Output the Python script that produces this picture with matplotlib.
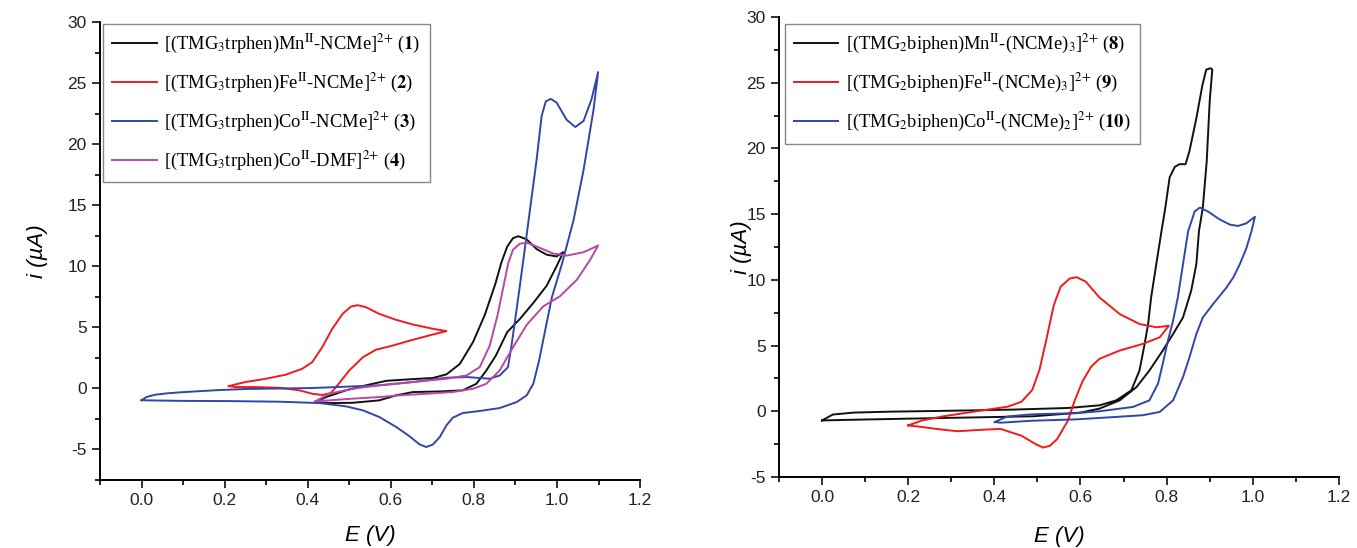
import matplotlib.pyplot as plt
from matplotlib.ticker import MultipleLocator

plt.rcParams['mathtext.fontset'] = 'stix'
plt.rcParams['axes.unicode_minus'] = False

# ---- left panel: TMG3trphen complexes (E in V, i in uA) ----
mn1_E = [0.419, 0.444, 0.492, 0.540, 0.589, 0.653, 0.701, 0.734, 0.766, 0.798, 0.826, 0.852, 0.866, 0.880,
         0.894, 0.907, 0.927, 0.951, 0.975, 0.999, 1.015,
         0.999, 0.975, 0.943, 0.911, 0.880, 0.853, 0.830, 0.806, 0.773, 0.718, 0.653, 0.613, 0.572, 0.508,
         0.452, 0.419]
mn1_i = [-1.12, -0.71, -0.16, 0.25, 0.62, 0.76, 0.85, 1.15, 2.0, 3.8, 6.0, 8.6, 10.3, 11.6,
         12.3, 12.46, 12.2, 11.4, 10.95, 10.8, 11.15,
         10.0, 8.4, 7.0, 5.7, 4.6, 2.7, 1.47, 0.38, -0.16, -0.25, -0.30, -0.57, -0.98, -1.18,
         -1.2, -1.12]

fe2_E = [0.210, 0.250, 0.299, 0.347, 0.387, 0.411, 0.435, 0.459, 0.484, 0.504, 0.520, 0.540, 0.572, 0.613,
         0.653, 0.701, 0.734,
         0.701, 0.653, 0.605, 0.564, 0.533, 0.500, 0.476, 0.456, 0.435, 0.411, 0.380, 0.331, 0.275, 0.226,
         0.210]
fe2_i = [0.19, 0.52, 0.79, 1.12, 1.61, 2.15, 3.38, 4.88, 6.10, 6.70, 6.81, 6.65, 6.10, 5.61,
         5.23, 4.88, 4.69,
         4.41, 3.98, 3.51, 3.16, 2.56, 1.47, 0.44, -0.38, -0.54, -0.44, -0.16, 0.05, 0.11, 0.11,
         0.19]

co3_E = [0.0, 0.011, 0.032, 0.063, 0.094, 0.179, 0.250, 0.411, 0.572, 0.653, 0.734, 0.782, 0.838, 0.862, 0.882,
         0.890, 0.900, 0.911, 0.924, 0.935, 0.951, 0.963, 0.973, 0.985, 0.999, 1.023, 1.044, 1.064, 1.083,
         1.099,
         1.088, 1.064, 1.040, 1.012, 0.988, 0.973, 0.957, 0.943, 0.927, 0.903, 0.862, 0.814, 0.773, 0.749,
         0.734, 0.718, 0.701, 0.685, 0.669, 0.645, 0.613, 0.572, 0.533, 0.492, 0.428, 0.331, 0.210, 0.090,
         0.032, 0.0]
co3_i = [-0.97, -0.72, -0.52, -0.40, -0.32, -0.15, -0.05, 0.03, 0.25, 0.52, 0.87, 0.93, 0.79, 1.06, 1.74,
         3.4, 5.8, 8.5, 11.8, 14.64, 18.74, 22.3, 23.5, 23.7, 23.4, 22.0, 21.4, 21.9, 23.66,
         25.9,
         22.84, 17.9, 13.8, 10.2, 7.5, 5.0, 2.3, 0.38, -0.57, -1.12, -1.61, -1.85, -2.02, -2.40,
         -3.02, -3.98, -4.60, -4.80, -4.58, -3.92, -3.16, -2.34, -1.80, -1.47, -1.20, -1.09, -1.04, -1.02,
         -0.99, -0.97]

co4_E = [0.419, 0.452, 0.508, 0.572, 0.653, 0.734, 0.782, 0.814, 0.838, 0.857, 0.872, 0.883, 0.894, 0.911,
         0.930, 0.959, 0.991, 1.023, 1.064, 1.099,
         1.080, 1.048, 1.007, 0.967, 0.927, 0.893, 0.862, 0.830, 0.798, 0.749, 0.685, 0.620, 0.572, 0.508,
         0.452, 0.419]
co4_i = [-1.04, -0.44, -0.03, 0.25, 0.52, 0.79, 1.06, 1.74, 3.5, 6.0, 8.5, 10.3, 11.35, 11.86,
         11.9, 11.5, 11.04, 10.87, 11.15, 11.7,
         10.54, 8.9, 7.54, 6.72, 5.2, 3.3, 1.47, 0.38, -0.03, -0.30, -0.44, -0.57, -0.71, -0.84,
         -0.98, -1.04]

# ---- right panel: TMG2biphen complexes ----
mn8_E = [0.0, 0.025, 0.074, 0.157, 0.281, 0.447, 0.571, 0.644, 0.683, 0.718, 0.737, 0.749, 0.757, 0.764,
         0.776, 0.788, 0.797, 0.807, 0.819, 0.830, 0.844, 0.853, 0.869, 0.883, 0.892, 0.902, 0.906,
         0.900, 0.893, 0.884, 0.875, 0.869, 0.857, 0.838, 0.815, 0.791, 0.760, 0.730, 0.691, 0.644, 0.600,
         0.492, 0.204, 0.050, 0.012, 0.0]
mn8_i = [-0.70, -0.25, -0.10, -0.03, 0.03, 0.13, 0.25, 0.45, 0.83, 1.59, 3.1, 5.13, 6.64, 8.66,
         11.2, 13.7, 15.5, 17.8, 18.6, 18.8, 18.8, 19.8, 22.3, 24.8, 26.0, 26.1, 26.0,
         23.6, 19.0, 15.5, 13.7, 11.2, 9.17, 7.14, 5.88, 4.62, 3.1, 1.84, 0.83, 0.2, -0.1,
         -0.38, -0.56, -0.66, -0.69, -0.70]

fe9_E = [0.200, 0.232, 0.281, 0.364, 0.430, 0.463, 0.488, 0.505, 0.521, 0.538, 0.554, 0.575, 0.591, 0.612,
         0.644, 0.691, 0.737, 0.776, 0.805,
         0.784, 0.745, 0.691, 0.644, 0.625, 0.605, 0.587, 0.571, 0.546, 0.529, 0.513, 0.496, 0.463, 0.414,
         0.364, 0.314, 0.265, 0.223, 0.200]
fe9_i = [-1.08, -0.70, -0.39, 0.03, 0.34, 0.72, 1.62, 3.17, 5.49, 8.07, 9.48, 10.1, 10.2, 9.87,
         8.66, 7.4, 6.64, 6.39, 6.5,
         5.63, 5.13, 4.62, 3.99, 3.4, 2.3, 0.85, -0.70, -2.11, -2.63, -2.76, -2.50, -1.86, -1.34,
         -1.42, -1.52, -1.34, -1.16, -1.08]

co10_E = [0.401, 0.430, 0.488, 0.588, 0.644, 0.722, 0.760, 0.780, 0.791, 0.803, 0.815, 0.826, 0.838, 0.850,
          0.865, 0.877, 0.896, 0.923, 0.947, 0.966, 0.985, 1.005,
          0.997, 0.985, 0.970, 0.955, 0.939, 0.908, 0.884, 0.869, 0.853, 0.838, 0.815, 0.784, 0.745, 0.683,
          0.588, 0.488, 0.415, 0.401]
co10_i = [-0.82, -0.40, -0.23, -0.15, 0.0, 0.33, 0.83, 2.1, 3.61, 5.38, 6.9, 8.66, 11.2, 13.7,
          15.2, 15.5, 15.2, 14.6, 14.2, 14.1, 14.3, 14.8,
          13.7, 12.4, 11.2, 10.2, 9.42, 8.16, 7.14, 5.88, 4.11, 2.6, 0.83, -0.05, -0.30, -0.43,
          -0.62, -0.72, -0.87, -0.82]

left_labels = [r'[(TMG$_3$trphen)Mn$^{\mathrm{II}}$-NCMe]$^{2{+}}$ ($\mathbf{1}$)',
               r'[(TMG$_3$trphen)Fe$^{\mathrm{II}}$-NCMe]$^{2{+}}$ ($\mathbf{2}$)',
               r'[(TMG$_3$trphen)Co$^{\mathrm{II}}$-NCMe]$^{2{+}}$ ($\mathbf{3}$)',
               r'[(TMG$_3$trphen)Co$^{\mathrm{II}}$-DMF]$^{2{+}}$ ($\mathbf{4}$)']
right_labels = [r'[(TMG$_2$biphen)Mn$^{\mathrm{II}}$-(NCMe)$_3$]$^{2{+}}$ ($\mathbf{8}$)',
                r'[(TMG$_2$biphen)Fe$^{\mathrm{II}}$-(NCMe)$_3$]$^{2{+}}$ ($\mathbf{9}$)',
                r'[(TMG$_2$biphen)Co$^{\mathrm{II}}$-(NCMe)$_2$]$^{2{+}}$ ($\mathbf{10}$)']

black = '#111111'
red = '#f21a1a'
blue = '#3245a8'
magenta = '#b548a8'

fig = plt.figure(figsize=(13.57, 5.48), dpi=100)
ax1 = fig.add_axes([0.0737, 0.1241, 0.398, 0.8358])
ax2 = fig.add_axes([0.574, 0.1296, 0.4127, 0.8394])

lw = 1.4
ax1.plot(mn1_E, mn1_i, color=black, lw=lw, label=left_labels[0])
ax1.plot(fe2_E, fe2_i, color=red, lw=lw, label=left_labels[1])
ax1.plot(co3_E, co3_i, color=blue, lw=lw, label=left_labels[2])
ax1.plot(co4_E, co4_i, color=magenta, lw=lw, label=left_labels[3])
ax1.set_ylim(-7.5, 30)

ax2.plot(mn8_E, mn8_i, color=black, lw=lw, label=right_labels[0])
ax2.plot(fe9_E, fe9_i, color=red, lw=lw, label=right_labels[1])
ax2.plot(co10_E, co10_i, color=blue, lw=lw, label=right_labels[2])
ax2.set_ylim(-5, 30)

for ax in (ax1, ax2):
    ax.set_xlim(-0.1, 1.2)
    ax.xaxis.set_major_locator(MultipleLocator(0.2))
    ax.xaxis.set_minor_locator(MultipleLocator(0.1))
    ax.yaxis.set_major_locator(MultipleLocator(5))
    ax.yaxis.set_minor_locator(MultipleLocator(2.5))
    ax.xaxis.set_major_formatter(plt.FuncFormatter(lambda v, p: '%.1f' % v))
    ax.spines['top'].set_visible(False)
    ax.spines['right'].set_visible(False)
    for s in ('left', 'bottom'):
        ax.spines[s].set_linewidth(1.4)
    ax.tick_params(which='major', direction='out', length=6, width=1.3, labelsize=12.5,
                   labelfontfamily='Liberation Sans', colors='#222222')
    ax.tick_params(which='minor', direction='out', length=3.5, width=1.2)

ax1.set_xlabel('E (V)', fontsize=16, fontstyle='italic', family='Liberation Sans', labelpad=12)
ax1.set_ylabel('i (µA)', fontsize=16, fontstyle='italic', family='Liberation Sans', labelpad=14)
ax2.set_xlabel('E (V)', fontsize=16, fontstyle='italic', family='Liberation Sans', labelpad=15)
ax2.set_ylabel('i (µA)', fontsize=16, fontstyle='italic', family='Liberation Sans', labelpad=-4)

leg_style = dict(loc='upper left', prop={'family': 'Liberation Serif', 'size': 13.3},
                 fancybox=False, framealpha=1, edgecolor='#888888', handlelength=2.4,
                 labelspacing=0.86, borderpad=0.5, handletextpad=0.4, borderaxespad=0)
leg1 = ax1.legend(bbox_to_anchor=(0.0056, 0.996), **leg_style)
leg2 = ax2.legend(bbox_to_anchor=(0.0107, 0.985), **leg_style)
for leg in (leg1, leg2):
    leg.get_frame().set_linewidth(1.0)

fig.savefig('out.png', dpi=100)
